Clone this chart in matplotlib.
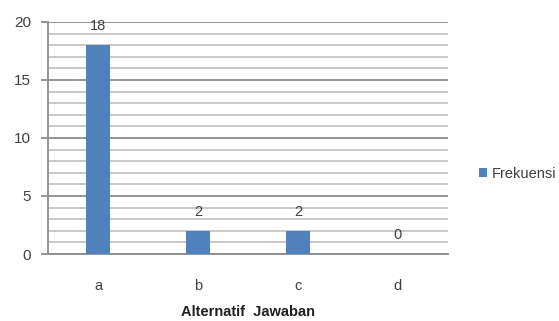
import matplotlib
import matplotlib.pyplot as plt
from matplotlib.ticker import MultipleLocator

matplotlib.use("Agg")

plt.rcParams['font.family'] = ['Liberation Sans Narrow', 'Liberation Sans', 'DejaVu Sans']

categories = ['a', 'b', 'c', 'd']
frekuensi = [18, 2, 2, 0]
series_name = 'Frekuensi'
x_title = 'Alternatif  Jawaban'

bar_color = '#4F81BD'
text_color = '#404040'

fig = plt.figure(figsize=(5.59, 3.21), dpi=100)
ax = fig.add_axes([48 / 559, 1 - 254 / 321, 400 / 559, 232 / 321])

pos = list(range(len(categories)))
bars = ax.bar(pos, frekuensi, width=0.24, color=bar_color, label=series_name, zorder=3)

for x, v in zip(pos, frekuensi):
    ax.annotate(str(v), (x, v), xytext=(0, 13.5), textcoords='offset points',
                ha='center', va='center', fontsize=10.5, color=text_color, zorder=4)

ax.set_xlim(-0.5, len(categories) - 0.5)
ax.set_ylim(0, 20)
ax.yaxis.set_major_locator(MultipleLocator(5))
ax.yaxis.set_minor_locator(MultipleLocator(1))
ax.grid(axis='y', which='major', color='#8c8c8c', linewidth=1.3, zorder=1)
ax.grid(axis='y', which='minor', color='#c4c4c4', linewidth=1.3, zorder=1)
ax.set_axisbelow(True)

for side in ['top', 'right']:
    ax.spines[side].set_visible(False)
ax.spines['left'].set_color('#8c8c8c')
ax.spines['bottom'].set_color('#8c8c8c')
ax.spines['left'].set_linewidth(1.3)
ax.spines['bottom'].set_linewidth(1.3)

ax.set_xticks(pos)
ax.set_xticklabels(categories)
ax.tick_params(axis='x', length=0, pad=18, labelsize=10.5, labelcolor=text_color)
ax.tick_params(axis='y', which='major', length=5, width=1.3, color='#8c8c8c',
               pad=7, labelsize=11, labelcolor=text_color)
ax.tick_params(axis='y', which='minor', length=0)

ax.set_xlabel(x_title, fontsize=10.5, fontweight='bold', color='#202020', labelpad=9)

fig.legend(handles=[bars], labels=[series_name], loc='center left',
           bbox_to_anchor=(472 / 559, 1 - 174 / 321), frameon=False,
           fontsize=10.5, handlelength=0.55, handleheight=0.55, handletextpad=0.3,
           borderpad=0, labelcolor=text_color)

fig.savefig('out.png', dpi=100)
